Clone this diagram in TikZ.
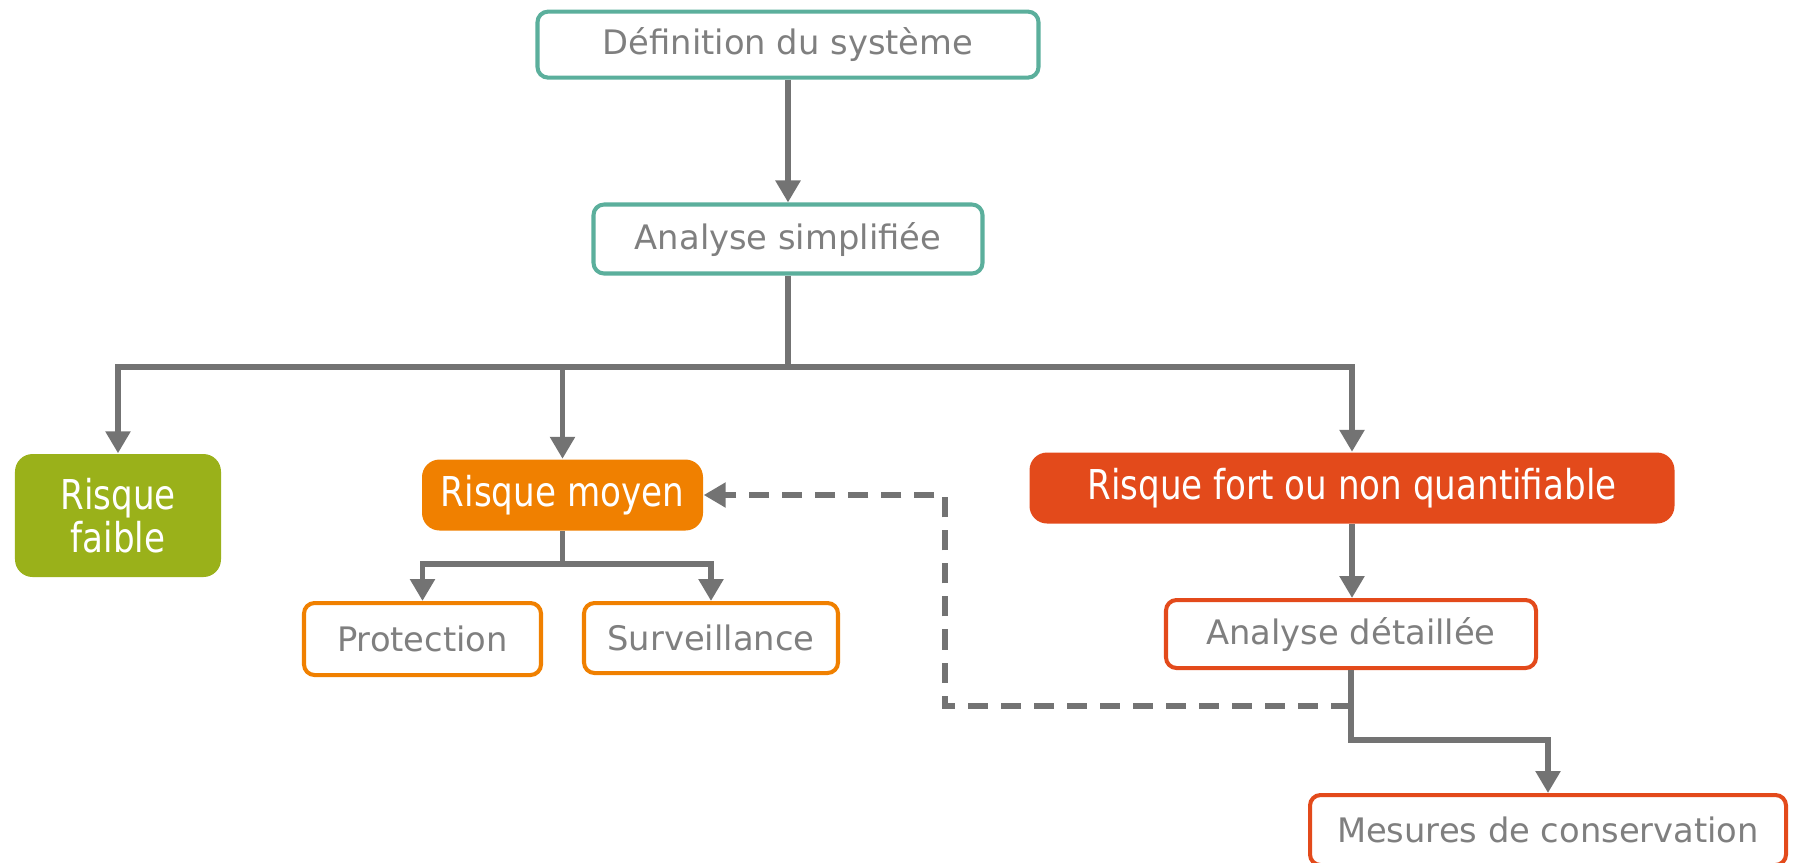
\documentclass[tikz,border=0pt]{standalone}
\usepackage{fontspec}
\setmainfont{DejaVu Sans}
\usepackage{graphicx}
\usepackage{xcolor}
\usepackage{tikz}
\usetikzlibrary{arrows.meta}

\definecolor{tealline}{HTML}{5BAF9C}
\definecolor{riskgreen}{HTML}{9AB11A}
\definecolor{riskorange}{HTML}{F08000}
\definecolor{riskred}{HTML}{E34A1B}
\definecolor{connector}{HTML}{737373}
\definecolor{labelgrey}{HTML}{7F7F7F}

\newcommand{\narrowtext}[1]{\scalebox{0.83}[1]{#1}}

\begin{document}
\begin{tikzpicture}[
    node distance=1.944cm,
    block/.style={rectangle, rounded corners=3pt, inner sep=0pt, line width=1.15pt, fill=white, text=labelgrey, font=\fontsize{9.6}{11.5}\selectfont},
    tealbox/.style={block, draw=tealline},
    orangebox/.style={block, draw=riskorange},
    redbox/.style={block, draw=riskred},
    riskbox/.style={rectangle, rounded corners=5pt, inner sep=0pt, text=white, align=center, font=\fontsize{11.7}{12.3}\selectfont},
    line/.style={draw=connector, line width=1.6pt, -{Triangle[length=0.22cm, width=0.24cm]}},
    stem/.style={draw=connector, line width=1.6pt},
    dashline/.style={line, line width=1.5pt, dash pattern=on 5.7pt off 3.7pt}
]
\useasboundingbox (0,0) rectangle (17.93,-8.62);

\node [tealbox, minimum width=5.01cm, minimum height=0.66cm] at (7.88,-0.446) (def) {Définition du système};
\node [tealbox, below of=def, minimum width=3.89cm, minimum height=0.69cm] (simple) {Analyse simplifiée};

\node [riskbox, fill=riskgreen, minimum width=2.06cm, minimum height=1.23cm] at (1.18,-5.155) (faible) {\narrowtext{Risque}\\\narrowtext{faible}};
\node [riskbox, fill=riskorange, minimum width=2.81cm, minimum height=0.71cm] at (5.625,-4.95) (moyen) {\narrowtext{Risque moyen}};
\node [riskbox, fill=riskred, minimum width=6.45cm, minimum height=0.71cm] at (13.52,-4.88) (fort) {\narrowtext{Risque fort ou non quantifiable}};

\node [orangebox, minimum width=2.37cm, minimum height=0.72cm] at (4.225,-6.39) (protect) {Protection};
\node [orangebox, minimum width=2.54cm, minimum height=0.70cm] at (7.11,-6.38) (surveil) {Surveillance};

\node [redbox, minimum width=3.70cm, minimum height=0.68cm] at (13.51,-6.34) (detail) {Analyse détaillée};
\node [redbox, minimum width=4.76cm, minimum height=0.70cm] at (15.48,-8.30) (mesures) {Mesures de conservation};

% tree from the simplified analysis
\coordinate (split) at (7.88,-3.67);
\path [line] (def) -- (simple);
\path [stem] (simple) -- (split);
\path [line] (split) -| (faible);
\path [line] (split) -| (moyen);
\path [line] (split) -| (fort);

% medium risk
\path (moyen.south) ++(0,-0.33) coordinate (msplit);
\path [stem] (moyen.south) -- (msplit);
\path [line] (msplit) -| (protect);
\path [line] (msplit) -| (surveil);

% high risk
\path [line] (fort.south) -- (fort.south |- detail.north);
\path (detail.south) ++(0,-0.36) coordinate (back);
\path (detail.south) ++(0,-0.70) coordinate (dsplit);
\path [line] (detail.south) -- (dsplit) -| (mesures);
\path [dashline] (back) -- ++(-4.06,0) |- (moyen.east);
\end{tikzpicture}
\end{document}
